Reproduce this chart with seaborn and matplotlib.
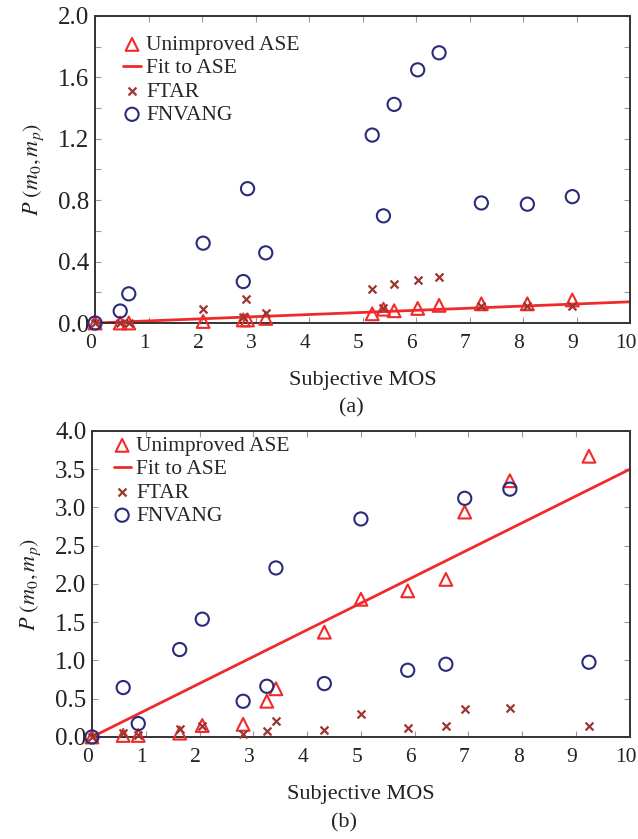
import numpy as np
import matplotlib
matplotlib.use("Agg")
import matplotlib.pyplot as plt
import seaborn as sns
from matplotlib.ticker import MultipleLocator
from matplotlib.transforms import ScaledTranslation

# panel (a)
a_ase_x = [0.0, 0.47, 0.63, 2.02, 2.77, 2.85, 3.19, 5.18, 5.39, 5.59, 6.03, 6.43, 7.22, 8.08, 8.92]
a_ase_y = [0.0, 0.0, 0.0, 0.01, 0.02, 0.02, 0.03, 0.06, 0.09, 0.08, 0.095, 0.115, 0.125, 0.125, 0.15]
a_ftar_x = [0.0, 0.47, 0.63, 2.02, 2.77, 2.83, 3.19, 5.18, 5.39, 5.59, 6.03, 6.43, 7.22, 8.08, 8.92]
a_ftar_y = [0.0, 0.0, 0.0, 0.09, 0.04, 0.156, 0.065, 0.22, 0.10, 0.253, 0.28, 0.30, 0.108, 0.11, 0.11]
a_fnv_x = [0.0, 0.47, 0.63, 2.02, 2.77, 2.85, 3.19, 5.18, 5.39, 5.59, 6.03, 6.43, 7.22, 8.08, 8.92]
a_fnv_y = [0.0, 0.078, 0.19, 0.52, 0.27, 0.875, 0.457, 1.224, 0.698, 1.424, 1.649, 1.76, 0.782, 0.774, 0.823]
a_fit_slope = 0.0138

# panel (b)
b_ase_x = [0.0, 0.58, 0.86, 1.63, 2.05, 2.81, 3.25, 3.42, 4.32, 5.0, 5.87, 6.58, 6.93, 7.77, 9.24]
b_ase_y = [0.0, 0.02, 0.02, 0.05, 0.15, 0.165, 0.467, 0.63, 1.37, 1.80, 1.91, 2.06, 2.94, 3.35, 3.67]
b_ftar_x = [0.0, 0.58, 0.86, 1.63, 2.05, 2.81, 3.25, 3.42, 4.32, 5.0, 5.87, 6.58, 6.93, 7.77, 9.24]
b_ftar_y = [0.0, 0.05, 0.02, 0.10, 0.14, 0.04, 0.08, 0.21, 0.09, 0.305, 0.12, 0.15, 0.36, 0.38, 0.15]
b_fnv_x = [0.0, 0.58, 0.86, 1.63, 2.05, 2.81, 3.25, 3.42, 4.32, 5.0, 5.87, 6.58, 6.93, 7.77, 9.24]
b_fnv_y = [0.0, 0.646, 0.175, 1.143, 1.54, 0.467, 0.663, 2.21, 0.698, 2.85, 0.872, 0.951, 3.12, 3.24, 0.977]
b_fit_slope = 0.35

fit_x = np.array([0.0, 10.0])

RED = "#f02a2a"
BROWN = "#9a3530"
NAVY = "#2b2b7c"
INK = "#222222"

sns.set_theme(style="ticks")
plt.rcParams["font.family"] = ["Liberation Serif", "DejaVu Serif"]
plt.rcParams["mathtext.fontset"] = "stix"


def draw_panel(ax, ase_x, ase_y, slope, ftar_x, ftar_y, fnv_x, fnv_y, ymax, ymajor, yminor, legend_at):
	sns.scatterplot(x=ase_x, y=ase_y, marker="^", s=85, facecolor="none", edgecolor=RED,
					linewidth=1.5, label="Unimproved ASE", ax=ax, clip_on=False, zorder=3)
	sns.lineplot(x=fit_x, y=slope * fit_x, color=RED, linewidth=2, label="Fit to ASE", ax=ax, zorder=2)
	sns.scatterplot(x=ftar_x, y=ftar_y, marker="x", s=32, color=BROWN, linewidth=1.6,
					label="FTAR", ax=ax, clip_on=False, zorder=3)
	sns.scatterplot(x=fnv_x, y=fnv_y, marker="o", s=90, facecolor="none", edgecolor=NAVY,
					linewidth=1.5, label="FNVANG", ax=ax, clip_on=False, zorder=4)

	ax.set_xlim(0, 10)
	ax.set_ylim(0, ymax)
	ax.xaxis.set_major_locator(MultipleLocator(1))
	ax.yaxis.set_major_locator(MultipleLocator(ymajor))
	if yminor:
		ax.yaxis.set_minor_locator(MultipleLocator(yminor))
	ax.yaxis.set_major_formatter("{x:.1f}")
	ax.tick_params(which="both", direction="in", top=True, right=True, length=4, width=0.8,
				   color="#999999", labelcolor=INK)
	ax.tick_params(axis="x", pad=8, labelsize=15.5)
	ax.tick_params(axis="y", pad=4, labelsize=18)
	# x tick labels sit a touch left of their ticks in the original
	shift = ScaledTranslation(-3 / 72, 0, ax.figure.dpi_scale_trans)
	for lab in ax.get_xticklabels():
		lab.set_transform(lab.get_transform() + shift)
	for sp in ax.spines.values():
		sp.set_linewidth(1.4)
		sp.set_color("#333333")
	ax.set_xlabel("Subjective MOS", fontsize=16, labelpad=13, color=INK)
	ax.set_ylabel(r"$P\ (m_0, m_p)$", fontsize=16, labelpad=9, color=INK)
	ax.legend(loc="upper left", bbox_to_anchor=legend_at, frameon=False, fontsize=15.5,
			  handlelength=0.8, handletextpad=0.25, labelspacing=0.15, borderaxespad=0, borderpad=0)


fig = plt.figure(figsize=(6.38, 8.39), dpi=100)
ax1 = fig.add_axes([0.149, 0.615, 0.8386, 0.366])
ax2 = fig.add_axes([0.1442, 0.1216, 0.843, 0.3647])

draw_panel(ax1, a_ase_x, a_ase_y, a_fit_slope, a_ftar_x, a_ftar_y, a_fnv_x, a_fnv_y,
		   2.0, 0.4, 0.2, (0.053, 0.938))
draw_panel(ax2, b_ase_x, b_ase_y, b_fit_slope, b_ftar_x, b_ftar_y, b_fnv_x, b_fnv_y,
		   4.0, 0.5, None, (0.040, 0.984))

fig.text(0.55, 0.514, "(a)", ha="center", va="center", fontsize=16, color=INK)
fig.text(0.539, 0.019, "(b)", ha="center", va="center", fontsize=16, color=INK)

fig.savefig("out.png", dpi=100)
